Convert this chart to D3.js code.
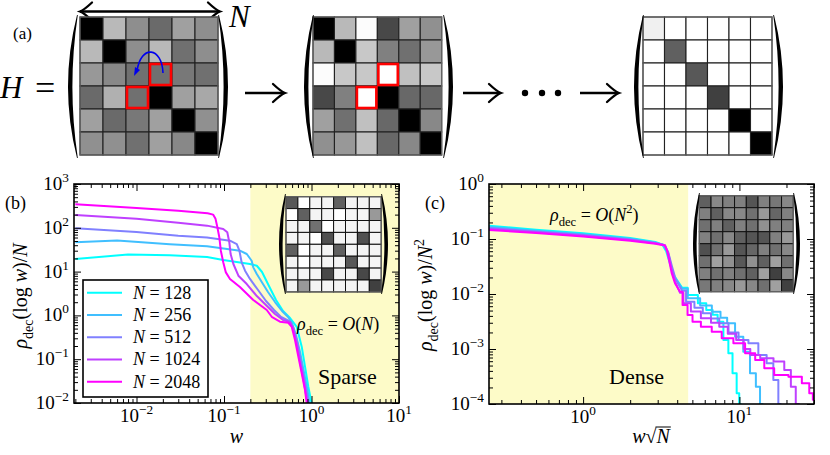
<!DOCTYPE html>
<html>
<head>
<meta charset="utf-8">
<script src="https://cdn.jsdelivr.net/npm/d3@7"></script>
<style>
  body { margin: 0; background: #fff; }
  svg text { font-family: "Liberation Serif", "DejaVu Serif", serif; white-space: pre; }
</style>
</head>
<body>
<div id="fig"></div>
<script>
// ---------- data ----------
const sizes = [128, 256, 512, 1024, 2048];
const lineColors = ["#00ffff", "#40bfff", "#8080ff", "#bf40ff", "#ff00ff"];

// panel (b): [w, rho_dec(log w)/N]
const sparse128 = [[0.002,19.4],[0.008,24.5],[0.024,23.5],[0.064,21.5],[0.098,18.4],[0.198,14.9],[0.237,13.6],[0.272,9.8],[0.318,5.2],[0.393,2.25],[0.473,1.26],[0.569,0.87],[0.678,0.55],[0.773,0.193],[0.843,0.0675],[0.92,0.0235],[1.0,0.01],[1.02,0.005]];
const sparse256 = [[0.002,46.7],[0.006,51],[0.024,42],[0.064,38],[0.152,30],[0.182,25.2],[0.207,17.7],[0.216,12.5],[0.237,8.8],[0.27,5.8],[0.318,3.42],[0.383,2.02],[0.46,1.26],[0.54,0.92],[0.599,0.67],[0.665,0.357],[0.74,0.146],[0.811,0.057],[0.89,0.022],[0.95,0.01],[0.97,0.005]];
const sparse512 = [[0.002,97.5],[0.01,80],[0.03,66],[0.064,60],[0.117,50.7],[0.14,42.6],[0.15,30],[0.159,16.3],[0.174,10.5],[0.198,6.8],[0.245,3.8],[0.302,2.13],[0.373,1.33],[0.449,0.92],[0.553,0.745],[0.615,0.54],[0.684,0.247],[0.75,0.096],[0.822,0.037],[0.89,0.015],[0.925,0.01],[0.94,0.005]];
const sparse1024 = [[0.002,196],[0.01,160],[0.03,130],[0.064,112],[0.098,94],[0.109,79],[0.115,46.7],[0.119,25.2],[0.128,14.9],[0.146,8.06],[0.182,5.2],[0.237,2.77],[0.318,1.56],[0.383,1.08],[0.473,0.785],[0.569,0.71],[0.624,0.46],[0.684,0.21],[0.74,0.086],[0.811,0.0335],[0.867,0.0152],[0.9,0.01],[0.92,0.005]];
const sparse2048 = [[0.002,345],[0.01,285],[0.03,245],[0.065,215],[0.075,200],[0.08,160],[0.084,103],[0.0885,60],[0.092,30],[0.098,16.3],[0.105,9.6],[0.117,6.8],[0.152,4.45],[0.216,2.25],[0.308,1.33],[0.351,0.93],[0.436,0.72],[0.543,0.68],[0.594,0.55],[0.648,0.274],[0.708,0.114],[0.773,0.0477],[0.843,0.0198],[0.881,0.01],[0.9,0.005]];

// panel (c): [w sqrt(N), rho_dec(log w)/N^2]
const dense128 = [[0.25,0.175],[0.5,0.148],[1,0.127],[2,0.104],[2.9,0.088],[3.2,0.08],[3.4,0.06],[3.6,0.035],[3.8,0.022],[4.3,0.013],[5.07,0.0096],[5.8,0.0068],[6.49,0.00512],[7.0,0.0042],[7.52,0.00313],[8.29,0.00146],[8.71,0.00084],[9.37,0.000361],[9.84,0.000157],[10.1,0.0001],[10.3,0.00006]];
const dense256 = [[0.25,0.166],[0.5,0.142],[1,0.122],[2,0.101],[2.9,0.086],[3.25,0.079],[3.45,0.06],[3.65,0.033],[3.85,0.02],[4.3,0.0125],[5.07,0.00835],[6.2,0.0062],[7.16,0.00477],[8.0,0.0037],[8.71,0.00293],[10.1,0.00167],[11.1,0.00089],[12.3,0.000361],[13.2,0.000206],[13.9,0.0001],[14.2,0.00006]];
const dense512 = [[0.25,0.158],[0.5,0.137],[1,0.118],[2,0.098],[2.9,0.085],[3.3,0.078],[3.5,0.058],[3.7,0.032],[3.9,0.019],[4.3,0.0115],[4.83,0.00724],[5.5,0.0056],[6.18,0.00446],[7.0,0.0036],[7.89,0.00293],[9.2,0.002],[10.6,0.00146],[12.3,0.00127],[14.2,0.00078],[15.7,0.00055],[17.3,0.000273],[18.2,0.0001],[18.5,0.00006]];
const dense1024 = [[0.25,0.152],[0.5,0.133],[1,0.115],[2,0.096],[2.9,0.084],[3.34,0.077],[3.51,0.055],[3.69,0.028],[3.87,0.017],[4.17,0.0105],[4.6,0.00678],[5.2,0.0048],[6.18,0.00361],[7.0,0.003],[7.89,0.00254],[9.0,0.0019],[10.1,0.00146],[11.2,0.001],[12.3,0.00078],[15.0,0.00068],[18.2,0.00059],[20.6,0.000415],[22.1,0.000206],[23.8,0.0001],[24.2,0.00006]];
const dense2048 = [[0.25,0.146],[0.5,0.128],[1,0.111],[2,0.093],[2.9,0.082],[3.34,0.076],[3.45,0.06],[3.51,0.0477],[3.69,0.0238],[3.87,0.0157],[4.17,0.011],[4.49,0.0063],[4.83,0.00415],[5.2,0.00313],[6.18,0.00254],[7.16,0.00206],[8.29,0.00157],[10.1,0.00127],[11.7,0.00084],[13.6,0.00063],[15.3,0.000446],[18.2,0.000337],[23.3,0.000314],[27.0,0.000238],[29.0,0.000157],[30,0.00012]];

const sparseSeries = [sparse128, sparse256, sparse512, sparse1024, sparse2048];
const denseSeries = [dense128, dense256, dense512, dense1024, dense2048];

// tick exponents (labels 10^k)
const xTicksB = [-2, -1, 0, 1];
const yTicksB = [-2, -1, 0, 1, 2, 3];
const xTicksC = [0, 1];
const yTicksC = [-4, -3, -2, -1, 0];

// matrix grey levels (0 = black, 255 = white)
const matStart = [
  [0,185,142,106,160,142],
  [185,0,142,185,112,142],
  [152,136,112,112,120,112],
  [106,176,112,0,160,168],
  [160,106,120,160,0,144],
  [144,144,112,160,136,0]];
const matStep = [
  [0,185,252,72,160,144],
  [185,0,200,128,112,152],
  [252,200,200,255,192,200],
  [72,128,255,0,104,104],
  [160,112,192,104,0,136],
  [144,152,192,104,136,0]];
const matEnd = [
  [240,255,255,255,255,255],
  [255,96,255,255,255,255],
  [255,255,88,255,255,255],
  [255,255,255,64,255,255],
  [255,255,255,255,0,255],
  [255,255,255,255,255,0]];
const matSparse = [
  [88,255,244,244,96,244,244,244],
  [255,96,244,244,255,244,244,153],
  [244,244,112,255,244,244,244,244],
  [244,244,255,80,244,244,80,244],
  [96,255,244,244,96,244,244,244],
  [244,255,244,244,244,88,244,244],
  [244,244,244,72,244,244,72,244],
  [244,153,244,244,244,244,244,64]];
const matDense = [
  [96,136,128,128,85,128,119,136],
  [128,96,136,136,112,153,102,128],
  [112,128,96,128,112,144,128,128],
  [128,112,136,96,85,85,128,153],
  [80,112,153,85,102,128,112,136],
  [112,160,144,88,144,96,160,112],
  [128,112,128,112,96,160,64,136],
  [120,128,136,153,136,112,160,64]];
// cells swapped by the Jacobi rotation, [row, col]
const rotatedCells = [[2,3],[3,2]];

// ---------- canvas ----------
const W = 830, H = 455;
const svg = d3.select("#fig").append("svg").attr("width", W).attr("height", H);
svg.append("rect").attr("width", W).attr("height", H).attr("fill", "#fff");

// mixed-style text: parts = [{t, it, sub, sup}]
const rich = (sel, parts, size) => {
  let shift = 0;
  parts.forEach(p => {
    const ts = sel.append("tspan").text(p.t);
    const target = p.sub ? size * 0.3 : p.sup ? -size * 0.42 : 0;
    if (target !== shift) { ts.attr("dy", target - shift); shift = target; }
    if (p.sub || p.sup) ts.attr("font-size", size * 0.7);
    if (p.it) ts.attr("font-style", "italic");
  });
  return sel;
};

const sci = (sel, k, size) => rich(sel, [{t: "10"}, {t: k < 0 ? "\u2212" + (-k) : String(k), sup: true}], size);

// curved parenthesis drawn as a filled crescent
const paren = (g, xl, w, top, bot, side, t) => {
  const mid = (top + bot) / 2;
  let d;
  if (side === "left") {
    const tip = xl + w;
    d = `M${tip},${top} Q${xl - w},${mid} ${tip},${bot} L${tip + 0.8},${bot} Q${xl + 2 * t - w + 0.8},${mid} ${tip + 0.8},${top} Z`;
  } else {
    const tip = xl;
    const xr = xl + w;
    d = `M${tip},${top} Q${xr + w},${mid} ${tip},${bot} L${tip - 0.8},${bot} Q${xr - 2 * t + w - 0.8},${mid} ${tip - 0.8},${top} Z`;
  }
  g.append("path").attr("d", d).attr("fill", "#000");
};

const drawMatrix = (g, vals, x0, y0, cw, ch, gridColor, strokeW) => {
  const n = vals.length;
  const cells = vals.flatMap((row, r) => row.map((v, c) => ({r, c, v})));
  g.append("g").selectAll("rect").data(cells).join("rect")
    .attr("x", d => x0 + d.c * cw).attr("y", d => y0 + d.r * ch)
    .attr("width", cw).attr("height", ch)
    .attr("fill", d => d3.rgb(d.v, d.v, d.v))
    .attr("stroke", gridColor).attr("stroke-width", strokeW);
  g.append("rect").attr("x", x0).attr("y", y0).attr("width", n * cw).attr("height", n * ch)
    .attr("fill", "none").attr("stroke", "#666").attr("stroke-width", 1.2);
};

const arrowHead = (g, tip, y, dir) => {
  const b = tip - dir * 12;
  g.append("path")
    .attr("d", `M${b},${y - 9} Q${tip - dir * 4},${y - 1.5} ${tip},${y} Q${tip - dir * 4},${y + 1.5} ${b},${y + 9}`)
    .attr("fill", "none").attr("stroke", "#000").attr("stroke-width", 2.3).attr("stroke-linecap", "round");
};
const arrow = (g, x1, x2, y, both) => {
  g.append("line").attr("x1", x1).attr("x2", x2 - 1).attr("y1", y).attr("y2", y)
    .attr("stroke", "#000").attr("stroke-width", 2.6);
  arrowHead(g, x2, y, 1);
  if (both) arrowHead(g, x1, y, -1);
};

// ---------- panel (a) ----------
const gA = svg.append("g");
gA.append("text").attr("x", 13).attr("y", 39).attr("font-size", 17).text("(a)");
gA.append("text").attr("x", 0).attr("y", 98).attr("font-size", 31).attr("font-style", "italic").text("H");
gA.append("text").attr("x", 35).attr("y", 100).attr("font-size", 36).text("=");
gA.append("text").attr("x", 229).attr("y", 27).attr("font-size", 31).attr("font-style", "italic").text("N");
arrow(gA, 80, 220, 11.5, true);

const mats = [
  {vals: matStart, x0: 80, cw: 23, pl: 68, pr: 219, red: true},
  {vals: matStep, x0: 313, cw: 21.45, pl: 304, pr: 444, red: true},
  {vals: matEnd, x0: 643, cw: 21.5, pl: 634, pr: 774, red: false}
];
mats.forEach(m => {
  drawMatrix(gA, m.vals, m.x0, 17, m.cw, 23, "#222", 1.1);
  paren(gA, m.pl, 9, 15, 158, "left", 3.6);
  paren(gA, m.pr, 9, 15, 158, "right", 3.6);
  if (m.red) {
    gA.append("g").selectAll("rect").data(rotatedCells).join("rect")
      .attr("x", d => m.x0 + d[1] * m.cw + 1).attr("y", d => 17 + d[0] * 23 + 1)
      .attr("width", m.cw - 2).attr("height", 21)
      .attr("fill", "none").attr("stroke", "#ff0000").attr("stroke-width", 2.6);
  }
});
// rotation indicator
gA.append("path").attr("d", "M163,73 C162,47 141,44 137,71")
  .attr("fill", "none").attr("stroke", "#0000ee").attr("stroke-width", 1.6);
gA.append("path").attr("d", "M134,76 L135,67 L140,70 Z").attr("fill", "#0000ee");

arrow(gA, 245, 285, 93, false);
arrow(gA, 463, 501, 93, false);
arrow(gA, 580, 619, 93, false);
gA.append("g").selectAll("circle").data([525, 542, 558]).join("circle")
  .attr("cx", d => d).attr("cy", 93).attr("r", 3.2).attr("fill", "#000");

// ---------- panels (b) and (c) ----------
const tickFont = 19;

const xB = d3.scaleLog().domain([0.00193, 10]).range([74, 399]);
const yB = d3.scaleLog().domain([0.01, 1000]).range([403, 184]);
const xC = d3.scaleLog().domain([0.25, 30]).range([489, 814]);
const yC = d3.scaleLog().domain([1e-4, 1]).range([404, 184]);

const isMajor = v => Math.abs(Math.log10(v) - Math.round(Math.log10(v))) < 1e-9;

const drawTicks = (g, x, y) => {
  const [x0, x1] = x.range(), [y1, y0] = y.range();
  const xs = x.ticks(), ys = y.ticks();
  const xMaj = xs.filter(isMajor), xMin = xs.filter(v => !isMajor(v));
  const yMaj = ys.filter(isMajor), yMin = ys.filter(v => !isMajor(v));
  const add = (axis, tr, vals, len) => g.append("g").attr("transform", tr)
    .call(axis.tickValues(vals).tickSize(-len).tickFormat(""))
    .call(a => a.select(".domain").remove())
    .call(a => a.selectAll("line").attr("stroke", "#000").attr("stroke-width", 1));
  [[xMaj, 7], [xMin, 4]].forEach(([v, l]) => {
    add(d3.axisBottom(x), `translate(0,${y1})`, v, l);
    add(d3.axisTop(x), `translate(0,${y0})`, v, l);
  });
  [[yMaj, 7], [yMin, 4]].forEach(([v, l]) => {
    add(d3.axisLeft(y), `translate(${x0},0)`, v, l);
    add(d3.axisRight(y), `translate(${x1},0)`, v, l);
  });
};

const drawTickLabels = (g, x, y, xExp, yExp) => {
  const [x0] = x.range(), [y1] = y.range();
  xExp.forEach(k => sci(g.append("text").attr("x", x(10 ** k)).attr("y", y1 + 19)
    .attr("text-anchor", "middle").attr("font-size", tickFont), k, tickFont));
  yExp.forEach(k => sci(g.append("text").attr("x", x0 - 5).attr("y", y(10 ** k) + 6)
    .attr("text-anchor", "end").attr("font-size", tickFont), k, tickFont));
};

// stepTail: x beyond which the histogram is drawn as a staircase
const drawPanel = (id, x, y, series, shadeFrom, shadeTo, stepTail) => {
  const g = svg.append("g");
  const [x0, x1] = x.range(), [y1, y0] = y.range();
  svg.append("clipPath").attr("id", id).append("rect")
    .attr("x", x0).attr("y", y0).attr("width", x1 - x0).attr("height", y1 - y0);
  g.append("rect").attr("x", x(shadeFrom)).attr("y", y0)
    .attr("width", x(shadeTo) - x(shadeFrom)).attr("height", y1 - y0).attr("fill", "#fdfbc8");
  const smooth = d3.line().x(d => x(d[0])).y(d => y(d[1]));
  const stairs = d3.line().x(d => x(d[0])).y(d => y(d[1])).curve(d3.curveStep);
  const path = d => {
    const k = d.findIndex(p => p[0] > stepTail);
    if (k < 1) return smooth(d);
    return smooth(d.slice(0, k)) + stairs(d.slice(k - 1)).replace(/^M/, "L");
  };
  g.append("g").attr("clip-path", `url(#${id})`).selectAll("path").data(series).join("path")
    .attr("d", path).attr("fill", "none")
    .attr("stroke", (d, i) => lineColors[i]).attr("stroke-width", 2)
    .attr("stroke-linejoin", "round");
  drawTicks(g, x, y);
  g.append("rect").attr("x", x0).attr("y", y0).attr("width", x1 - x0).attr("height", y1 - y0)
    .attr("fill", "none").attr("stroke", "#000").attr("stroke-width", 1.6);
  return g;
};

// (b)
const gB = drawPanel("clipB", xB, yB, sparseSeries, 0.2, 10, Infinity);
drawTickLabels(gB, xB, yB, xTicksB, yTicksB);
gB.append("text").attr("x", 5).attr("y", 209).attr("font-size", 18).text("(b)");
rich(gB.append("text").attr("transform", "translate(27,296) rotate(-90)")
  .attr("text-anchor", "middle").attr("font-size", 20),
  [{t: "\u03c1", it: true}, {t: "dec", sub: true}, {t: "(log "}, {t: "w", it: true}, {t: ")/"}, {t: "N", it: true}], 20);
gB.append("text").attr("x", xB(Math.sqrt(xB.domain()[0] * 10))).attr("y", 443)
  .attr("text-anchor", "middle").attr("font-size", 20).attr("font-style", "italic").text("w");
rich(gB.append("text").attr("x", 297).attr("y", 330).attr("font-size", 18),
  [{t: "\u03c1", it: true}, {t: "dec", sub: true}, {t: " = "}, {t: "O", it: true}, {t: "("}, {t: "N", it: true}, {t: ")"}], 18);
gB.append("text").attr("x", 318).attr("y", 384).attr("font-size", 22).text("Sparse");

// legend
const lg = gB.append("g");
lg.append("rect").attr("x", 83).attr("y", 280).attr("width", 125).attr("height", 117)
  .attr("fill", "#fff").attr("stroke", "#000").attr("stroke-width", 1.6);
const rows = lg.selectAll("g").data(sizes).join("g")
  .attr("transform", (d, i) => `translate(0,${292.7 + i * 22.25})`);
rows.append("line").attr("x1", 87).attr("x2", 122).attr("y1", 0).attr("y2", 0)
  .attr("stroke", (d, i) => lineColors[i]).attr("stroke-width", 2);
rows.append("text").attr("x", 133).attr("y", 6).attr("font-size", 18)
  .each(function (d) { rich(d3.select(this), [{t: "N", it: true}, {t: " = " + d}], 18); });

// inset matrix (b)
drawMatrix(gB, matSparse, 286, 196.7, 11.9, 11.9, "#111", 1);
paren(gB, 279, 6, 194, 294, "left", 2.8);
paren(gB, 382, 6, 194, 294, "right", 2.8);

// (c)
const gC = drawPanel("clipC", xC, yC, denseSeries, 0.25, 4.7, 4.4);
drawTickLabels(gC, xC, yC, xTicksC, yTicksC);
gC.append("text").attr("x", 425).attr("y", 209).attr("font-size", 18).text("(c)");
rich(gC.append("text").attr("transform", "translate(432,295) rotate(-90)")
  .attr("text-anchor", "middle").attr("font-size", 20),
  [{t: "\u03c1", it: true}, {t: "dec", sub: true}, {t: "(log "}, {t: "w", it: true}, {t: ")/"}, {t: "N", it: true}, {t: "2", sup: true}], 20);
const xl = rich(gC.append("text").attr("x", 651).attr("y", 443)
  .attr("text-anchor", "middle").attr("font-size", 20),
  [{t: "w", it: true}, {t: "\u221a"}, {t: "N", it: true}], 20);
const xlNode = xl.node();
const nStart = xlNode.getStartPositionOfChar(2), nEnd = xlNode.getEndPositionOfChar(2);
gC.append("line").attr("x1", nStart.x - 1).attr("x2", nEnd.x + 1)
  .attr("y1", 443 - 16).attr("y2", 443 - 16).attr("stroke", "#000").attr("stroke-width", 1);
rich(gC.append("text").attr("x", 550).attr("y", 221).attr("font-size", 18),
  [{t: "\u03c1", it: true}, {t: "dec", sub: true}, {t: " = "}, {t: "O", it: true}, {t: "("}, {t: "N", it: true}, {t: "2", sup: true}, {t: ")"}], 18);
gC.append("text").attr("x", 609).attr("y", 384).attr("font-size", 22).text("Dense");

// inset matrix (c)
drawMatrix(gC, matDense, 699.3, 195.7, 11.75, 12, "#111", 1);
paren(gC, 693, 6, 193, 294, "left", 2.8);
paren(gC, 794, 6, 193, 294, "right", 2.8);
</script>
</body>
</html>
